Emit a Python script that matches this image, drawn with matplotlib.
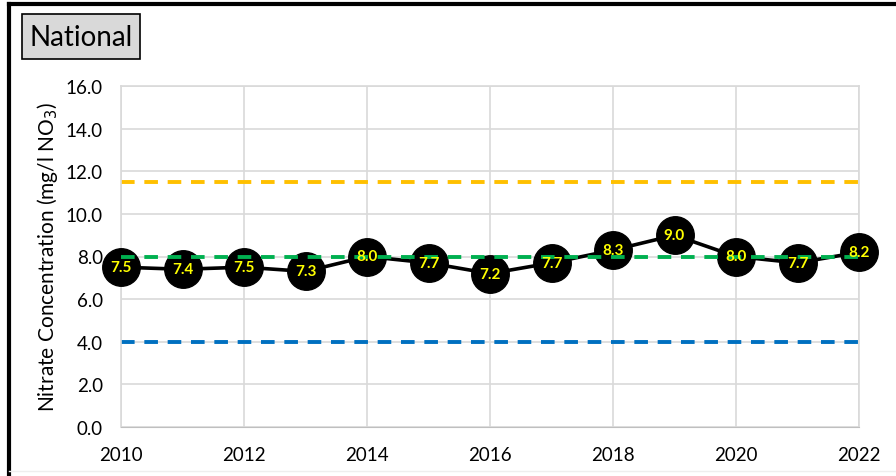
import matplotlib
matplotlib.use("Agg")
import matplotlib.pyplot as plt
from matplotlib.patches import Rectangle
from matplotlib.lines import Line2D

years = [2010, 2011, 2012, 2013, 2014, 2015, 2016, 2017, 2018, 2019, 2020, 2021, 2022]
nitrate = [7.5, 7.4, 7.5, 7.3, 8.0, 7.7, 7.2, 7.7, 8.3, 9.0, 8.0, 7.7, 8.2]
ref_upper = 11.5
ref_mid = 8.0
ref_lower = 4.0
y_ticks = [0, 2, 4, 6, 8, 10, 12, 14, 16]
x_ticks = [2010, 2012, 2014, 2016, 2018, 2020, 2022]
title = "National"

plt.rcParams['font.family'] = ['Lato', 'DejaVu Sans']

W, H = 896, 477
fig = plt.figure(figsize=(W/100, H/100), dpi=100)
ax = fig.add_axes([121/W, 1-428/H, (859-121)/W, (428-87)/H])

ax.set_xlim(2010, 2022)
ax.set_ylim(0, 16)
ax.set_yticks(y_ticks)
ax.set_yticklabels([f"{v:.1f}" for v in y_ticks])
ax.set_xticks(x_ticks)
ax.grid(True, color='#d9d9d9', linewidth=1.2)
ax.set_axisbelow(True)
for s in ['top', 'right', 'left']:
    ax.spines[s].set_color('#d9d9d9')
    ax.spines[s].set_linewidth(1.2)
ax.spines['bottom'].set_color('#bfbfbf')
ax.tick_params(axis='y', length=0, labelsize=13.5, colors='black', pad=13)
ax.tick_params(axis='x', length=0, labelsize=13.5, colors='black', pad=14)

ax.axhline(ref_upper, color='#ffc000', linestyle=(0, (3.5, 2.5)), linewidth=2.8, zorder=2)
ax.axhline(ref_lower, color='#0070c0', linestyle=(0, (3.5, 2.5)), linewidth=2.8, zorder=2)
ax.plot(years, nitrate, color='black', linewidth=2.6, marker='o', markersize=27,
        markerfacecolor='black', markeredgecolor='black', zorder=3, clip_on=False)
ax.axhline(ref_mid, color='#00b050', linestyle=(0, (3.5, 2.5)), linewidth=2.8, zorder=4)
for x, v in zip(years, nitrate):
    ax.text(x, v, f"{v:.1f}", color='#ffff00', fontsize=11, fontweight='bold',
            ha='center', va='center', zorder=5)

ax.set_ylabel("Nitrate Concentration (mg/l NO$_3$)", fontsize=15, labelpad=4)

# title box
fig.patches.append(Rectangle((22/W, 1-60/H), 118/W, 45/H, transform=fig.transFigure,
                             facecolor='#d9d9d9', edgecolor='black', linewidth=1.2))
fig.text(81/W, 1-38/H, title, fontsize=20, ha='center', va='center')

# frame borders
fig.add_artist(Line2D([9/W, 9/W], [0, 1-5/H], transform=fig.transFigure, color='black', linewidth=3))
fig.add_artist(Line2D([9/W, 1], [1-5/H, 1-5/H], transform=fig.transFigure, color='black', linewidth=3))
fig.add_artist(Line2D([9/W, 1], [1-472/H, 1-472/H], transform=fig.transFigure, color='#eeeeee', linewidth=1))

fig.savefig("out.png", dpi=100)
